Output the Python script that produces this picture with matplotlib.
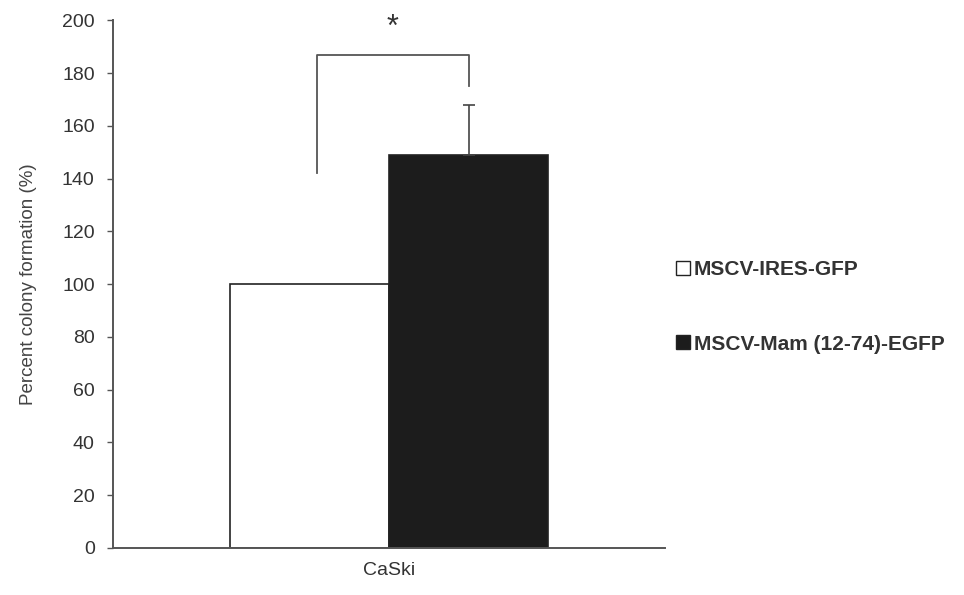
import numpy as np
import matplotlib
matplotlib.use("Agg")
import matplotlib.pyplot as plt
from matplotlib.patches import Patch

# Data
groups = ["MSCV-IRES-GFP", "MSCV-Mam (12-74)-EGFP"]
values = [100, 149]
errors = [0, 19]
category = "CaSki"
y_ticks = list(range(0, 201, 20))

plt.rcParams['font.family'] = ['Liberation Sans', 'DejaVu Sans']

fig = plt.figure(figsize=(9.64, 5.95), dpi=100)
ax = fig.add_axes([0.117, 0.079, 0.573, 0.887])

width = 0.288
xs = np.array([-width / 2, width / 2])
face = ["white", "#1c1c1c"]
ax.bar(xs, values, width=width, color=face, edgecolor="#222222", linewidth=1.2, zorder=2)

# error bar only up for the black bar
ax.errorbar(xs[1], values[1], yerr=[[0], [errors[1]]], fmt="none", ecolor="#444444",
            elinewidth=1.2, capsize=4, capthick=1.2, zorder=3)

# significance bracket
bx_left = -0.13
bx_right = xs[1]
ax.plot([bx_left, bx_left, bx_right, bx_right], [142, 187, 187, 175],
        color="#555555", lw=1.3, zorder=3)
ax.text((bx_left + bx_right) / 2, 197, "*", ha="center", va="center", fontsize=22, color="#333333")

ax.set_xlim(-0.5, 0.5)
ax.set_ylim(0, 200)
ax.set_yticks(y_ticks)
ax.set_xticks([0])
ax.set_xticklabels([category], fontsize=14, color="#333333")
ax.tick_params(axis="x", length=0, pad=10)
ax.tick_params(axis="y", direction="out", length=4, width=1, colors="#555555", labelsize=14,
               labelcolor="#333333", pad=9)
ax.set_ylabel("Percent colony formation (%)", fontsize=13.5, color="#444444", labelpad=18)

for s in ["top", "right"]:
    ax.spines[s].set_visible(False)
for s in ["left", "bottom"]:
    ax.spines[s].set_color("#555555")
    ax.spines[s].set_linewidth(1.4)

handles = [Patch(facecolor=face[i], edgecolor="#222222", linewidth=1.0) for i in range(2)]
leg = fig.legend(handles, groups, loc="upper left", bbox_to_anchor=(0.682, 0.594),
                 frameon=False, handlelength=0.65, handleheight=0.65, handletextpad=0.2,
                 labelspacing=2.66, prop={"size": 15, "weight": "bold"})
for t in leg.get_texts():
    t.set_color("#333333")

fig.savefig("out.png", dpi=100)
